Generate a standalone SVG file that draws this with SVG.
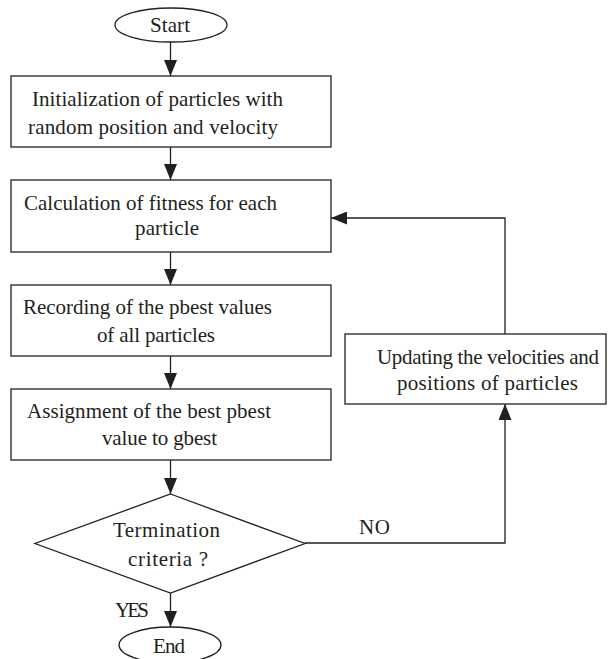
<svg xmlns="http://www.w3.org/2000/svg" width="608" height="659" viewBox="0 0 608 659">
<style>
.s{fill:#fff;stroke:#231f20;stroke-width:1.3}
.t{font-family:'Liberation Serif','Times New Roman',serif;font-size:21px;fill:#231f20}
.c{fill:none;stroke:#231f20;stroke-width:1.3}
</style>
<defs>
<marker id="ah" viewBox="0 0 16 13" refX="16" refY="6.5" markerWidth="16" markerHeight="13" markerUnits="userSpaceOnUse" orient="auto">
<path d="M0,0 L16,6.5 L0,13 Z" fill="#231f20"/>
</marker>
</defs>
<rect width="608" height="659" fill="#fff"/>
<g id="connectors">
<line class="c" x1="170.5" y1="42" x2="170.5" y2="76" marker-end="url(#ah)"/>
<line class="c" x1="170.5" y1="147" x2="170.5" y2="180" marker-end="url(#ah)"/>
<line class="c" x1="170.5" y1="252" x2="170.5" y2="285" marker-end="url(#ah)"/>
<line class="c" x1="170.5" y1="356" x2="170.5" y2="389" marker-end="url(#ah)"/>
<line class="c" x1="170.5" y1="460" x2="170.5" y2="494" marker-end="url(#ah)"/>
<line class="c" x1="170.5" y1="593" x2="170.5" y2="627" marker-end="url(#ah)"/>
<polyline class="c" points="305,543 505,543 505,404" marker-end="url(#ah)"/>
<polyline class="c" points="505,334 505,218 331,218" marker-end="url(#ah)"/>
<text class="t" x="359" y="534" textLength="31">NO</text>
<text class="t" x="115" y="617" textLength="34">YES</text>
</g>
<g id="start">
<ellipse class="s" cx="171" cy="25" rx="56" ry="17"/>
<text class="t" x="150" y="32" textLength="40">Start</text>
</g>
<g id="init">
<rect class="s" x="11" y="76" width="320" height="71"/>
<text class="t" x="32" y="106" textLength="251">Initialization of particles with</text>
<text class="t" x="28" y="134" textLength="250">random position and velocity</text>
</g>
<g id="fitness">
<rect class="s" x="11" y="180" width="320" height="72"/>
<text class="t" x="24" y="210" textLength="253">Calculation of fitness for each</text>
<text class="t" x="135" y="235" textLength="64">particle</text>
</g>
<g id="pbest">
<rect class="s" x="11" y="285" width="320" height="71"/>
<text class="t" x="23" y="314" textLength="249">Recording of the pbest values</text>
<text class="t" x="97" y="342" textLength="118">of all particles</text>
</g>
<g id="gbest">
<rect class="s" x="11" y="389" width="320" height="71"/>
<text class="t" x="27" y="418" textLength="244">Assignment of the best pbest</text>
<text class="t" x="102" y="445" textLength="115">value to gbest</text>
</g>
<g id="termination">
<polygon class="s" points="170.5,494 305,543.5 170.5,593 35,543.5"/>
<text class="t" x="113" y="537" textLength="107">Termination</text>
<text class="t" x="128" y="566" textLength="80">criteria ?</text>
</g>
<g id="update">
<rect class="s" x="345" y="334" width="261" height="70"/>
<text class="t" x="377" y="364" textLength="222">Updating the velocities and</text>
<text class="t" x="397" y="390" textLength="181">positions of particles</text>
</g>
<g id="end">
<ellipse class="s" cx="170" cy="645" rx="51" ry="18"/>
<text class="t" x="153" y="653" textLength="32">End</text>
</g>
</svg>
